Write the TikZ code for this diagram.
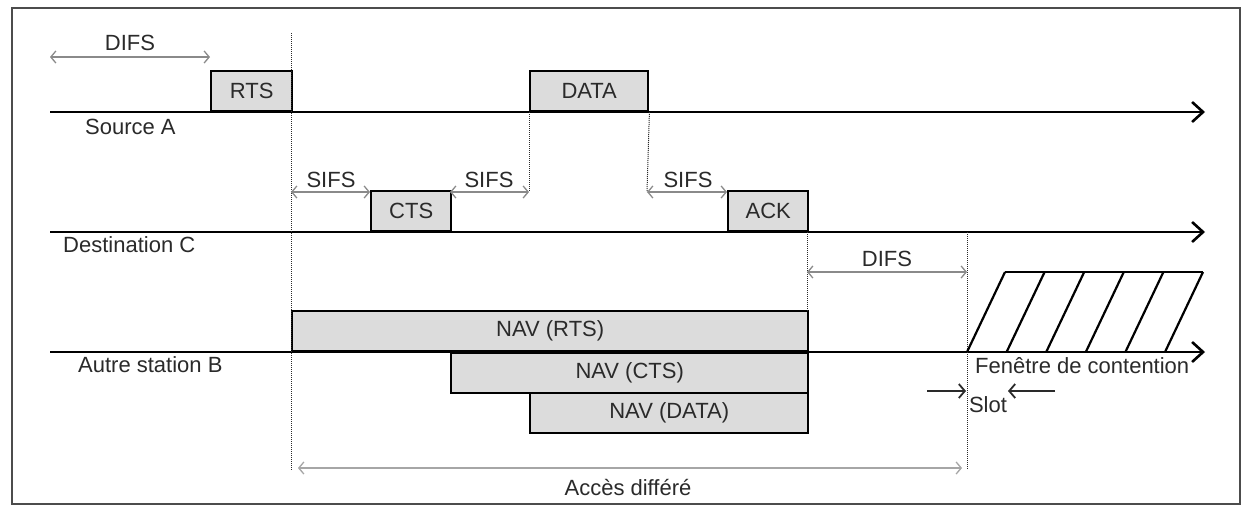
\documentclass[tikz,border=0pt]{standalone}
\usepackage{fontspec}
\setmainfont{Liberation Sans}
\usetikzlibrary{arrows.meta}
\definecolor{boxgray}{HTML}{DCDCDC}
\definecolor{txt}{HTML}{2A2A2A}
\definecolor{dimgray}{HTML}{8A8A8A}
\tikzset{
  lbl/.style={font=\fontsize{22}{25}\selectfont, text=txt, inner sep=0pt},
  pkt/.style={draw=black, line width=2.4pt, fill=boxgray, minimum height=40, inner sep=0pt,
              font=\fontsize{22}{25}\selectfont, text=txt},
  timeline/.style={draw=black, line width=2.6pt, -{Straight Barb[length=11pt,width=20pt]}},
  dimarrow/.style={draw=dimgray, line width=1.3pt,
                   {Straight Barb[length=5pt,width=12pt]}-{Straight Barb[length=5pt,width=12pt]}},
  guide/.style={densely dotted, line width=1pt, draw=txt},
  slotarrow/.style={draw=txt, line width=1.8pt, -{Straight Barb[length=6pt,width=14pt]}},
  hatch/.style={draw=black, line width=2.2pt},
}
\begin{document}
\begin{tikzpicture}[x=1pt,y=-1pt]
\useasboundingbox (0,0) rectangle (1250,507);
\fill[white] (0,0) rectangle (1250,507);
% frame
\draw[line width=1.6pt, draw=black!70] (12,8) rectangle (1240,504);

% time lines
\coordinate (A0) at (50,112);  \coordinate (A1) at (1205,112);
\coordinate (C0) at (50,232);  \coordinate (C1) at (1205,232);
\coordinate (B0) at (50,352);  \coordinate (B1) at (1205,352);
\draw[timeline] (A0) -- (A1);
\draw[timeline] (C0) -- (C1);
\draw[timeline] (B0) -- (B1);

% station labels
\node[lbl, anchor=west] (srcA) at (85,127) {Source A};
\node[lbl, anchor=west] (dstC) at (63,245) {Destination C};
\node[lbl, anchor=west] (autB) at (78,365) {Autre station B};

% frames on source A
\node[pkt, minimum width=81, anchor=south west] (rts) at (210,112) {RTS};
\node[pkt, minimum width=118, anchor=south west] (data) at (529,112) {DATA};
% frames on destination C
\node[pkt, minimum width=80, anchor=south west] (cts) at (370,232) {CTS};
\node[pkt, minimum width=80, anchor=south west] (ack) at (727,232) {ACK};
% NAV on station B
\node[pkt, minimum width=516, anchor=south west] (navrts) at (291,352) {NAV (RTS)};
\node[pkt, minimum width=357, anchor=north west] (navcts) at (450,352) {NAV (CTS)};
\node[pkt, minimum width=278, anchor=north west] (navdata) at (529,392) {NAV (DATA)};

% guide coordinates
\coordinate (g1top) at (291,33);
\coordinate (g1bot) at (291,470);
\coordinate (g2bot) at (529,192);
\coordinate (g3bot) at (647,192);
\coordinate (g4top) at (807,232);
\coordinate (g4bot) at (807,312);
\coordinate (g5top) at (967,232);
\coordinate (g5bot) at (967,470);
\draw[guide] (g1top) -- (g1bot);
\draw[guide] (data.south west) -- (g2bot);
\draw[guide] (data.south east) -- (g3bot);
\draw[guide] (g4top) -- (g4bot);
\draw[guide] (g5top) -- (g5bot);

% DIFS (top)
\coordinate (d1a) at (50,57);
\coordinate (d1b) at (210,57);
\draw[dimarrow] (d1a) -- (d1b);
\node[lbl] (difs1) at (130,43) {DIFS};

% SIFS arrows
\coordinate (s1a) at (291,192); \coordinate (s1b) at (370,192);
\coordinate (s2a) at (450,192); \coordinate (s2b) at (529,192);
\coordinate (s3a) at (647,192); \coordinate (s3b) at (727,192);
\draw[dimarrow] (s1a) -- (s1b);
\draw[dimarrow] (s2a) -- (s2b);
\draw[dimarrow] (s3a) -- (s3b);
\node[lbl] (sifs1) at (331,180) {SIFS};
\node[lbl] (sifs2) at (489,180) {SIFS};
\node[lbl] (sifs3) at (688,180) {SIFS};

% DIFS (after ACK)
\coordinate (d2a) at (807,272);
\coordinate (d2b) at (967,272);
\draw[dimarrow] (d2a) -- (d2b);
\node[lbl] (difs2) at (887,259) {DIFS};

% contention window
\foreach \k in {0,...,5} {
  \draw[hatch] ({967+39.6*\k},352) -- ({1005+39.6*\k},272);
}
\draw[hatch] (1005,272) -- (1203,272);
\node[lbl, anchor=west] (fen) at (975,366) {Fenêtre de contention};

% slot
\coordinate (sl1a) at (927,391); \coordinate (sl1b) at (966,391);
\coordinate (sl2a) at (1055,391); \coordinate (sl2b) at (1008,391);
\draw[slotarrow] (sl1a) -- (sl1b);
\draw[slotarrow] (sl2a) -- (sl2b);
\node[lbl] (slot) at (988,405) {Slot};

% deferred access
\coordinate (acc1) at (298,468);
\coordinate (acc2) at (962,468);
\draw[dimarrow, draw=black!35] (acc1) -- (acc2);
\node[lbl] (acces) at (628,487) {Accès différé};
\end{tikzpicture}
\end{document}
